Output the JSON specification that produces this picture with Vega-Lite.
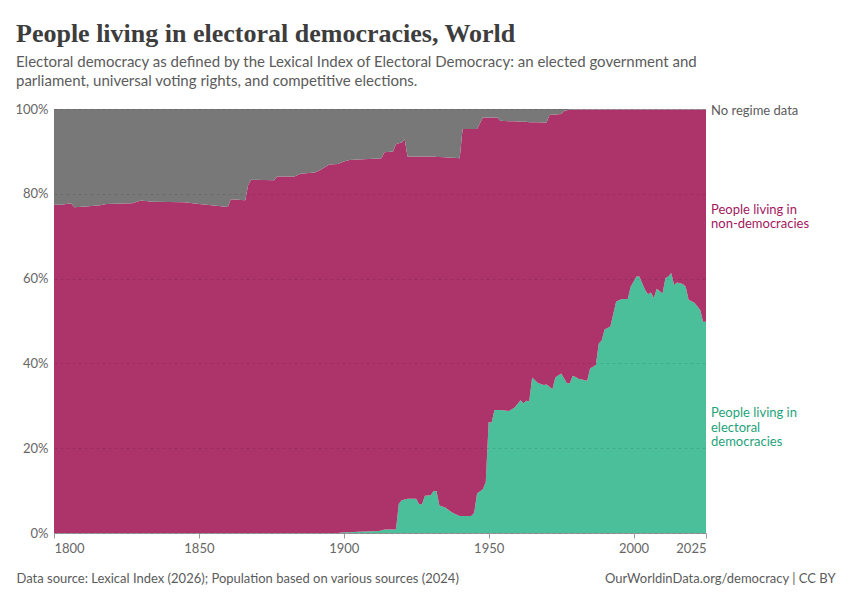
{
  "$schema": "https://vega.github.io/schema/vega-lite/v6.json",
  "autosize": {"type": "none"},
  "width": 652,
  "height": 424,
  "padding": {"left": 54, "top": 109, "right": 144, "bottom": 67},
  "background": "white",
  "title": {
    "text": "People living in electoral democracies, World",
    "subtitle": [
      "Electoral democracy as defined by the Lexical Index of Electoral Democracy: an elected government and",
      "parliament, universal voting rights, and competitive elections."
    ],
    "anchor": "start",
    "frame": "group",
    "dx": -38,
    "offset": 14,
    "font": "Liberation Serif",
    "fontSize": 26,
    "fontWeight": "bold",
    "color": "#3d3d3d",
    "subtitleFont": "Lato",
    "subtitleFontSize": 15,
    "subtitleColor": "#5b5b5b",
    "subtitlePadding": 8,
    "subtitleLineHeight": 19
  },
  "data": {
    "values": [
      {"year": 1800, "dem": 0, "non": 77.4, "none": 22.6},
      {"year": 1803, "dem": 0, "non": 77.4, "none": 22.6},
      {"year": 1804, "dem": 0, "non": 77.6, "none": 22.4},
      {"year": 1806, "dem": 0, "non": 77.7, "none": 22.3},
      {"year": 1807, "dem": 0, "non": 76.8, "none": 23.2},
      {"year": 1811, "dem": 0, "non": 77.0, "none": 23.0},
      {"year": 1816, "dem": 0, "non": 77.3, "none": 22.7},
      {"year": 1818, "dem": 0, "non": 77.6, "none": 22.4},
      {"year": 1827, "dem": 0, "non": 77.8, "none": 22.2},
      {"year": 1830, "dem": 0, "non": 78.4, "none": 21.6},
      {"year": 1834, "dem": 0, "non": 78.1, "none": 21.9},
      {"year": 1845, "dem": 0, "non": 78.0, "none": 22.0},
      {"year": 1850, "dem": 0, "non": 77.6, "none": 22.4},
      {"year": 1856, "dem": 0, "non": 77.2, "none": 22.8},
      {"year": 1860, "dem": 0, "non": 76.9, "none": 23.1},
      {"year": 1861, "dem": 0, "non": 78.7, "none": 21.3},
      {"year": 1866, "dem": 0, "non": 78.5, "none": 21.5},
      {"year": 1867, "dem": 0, "non": 82.1, "none": 17.9},
      {"year": 1868, "dem": 0, "non": 83.3, "none": 16.7},
      {"year": 1876, "dem": 0, "non": 83.2, "none": 16.8},
      {"year": 1877, "dem": 0, "non": 84.1, "none": 15.9},
      {"year": 1883, "dem": 0, "non": 84.1, "none": 15.9},
      {"year": 1885, "dem": 0, "non": 84.7, "none": 15.3},
      {"year": 1890, "dem": 0, "non": 85.0, "none": 15.0},
      {"year": 1892, "dem": 0, "non": 85.7, "none": 14.3},
      {"year": 1895, "dem": 0, "non": 86.9, "none": 13.1},
      {"year": 1898, "dem": 0, "non": 87.0, "none": 13.0},
      {"year": 1900, "dem": 0.2, "non": 87.4, "none": 12.4},
      {"year": 1902, "dem": 0.2, "non": 87.8, "none": 12.0},
      {"year": 1905, "dem": 0.3, "non": 87.8, "none": 11.9},
      {"year": 1912, "dem": 0.5, "non": 87.8, "none": 11.7},
      {"year": 1913, "dem": 0.6, "non": 87.8, "none": 11.6},
      {"year": 1914, "dem": 0.8, "non": 89.0, "none": 10.2},
      {"year": 1917, "dem": 0.8, "non": 89.2, "none": 10.0},
      {"year": 1918, "dem": 0.8, "non": 90.9, "none": 8.3},
      {"year": 1919, "dem": 6.9, "non": 85.0, "none": 8.1},
      {"year": 1920, "dem": 7.7, "non": 84.4, "none": 7.9},
      {"year": 1921, "dem": 7.9, "non": 85.0, "none": 7.1},
      {"year": 1922, "dem": 8.1, "non": 80.7, "none": 11.2},
      {"year": 1925, "dem": 8.1, "non": 80.7, "none": 11.2},
      {"year": 1926, "dem": 6.8, "non": 82.0, "none": 11.2},
      {"year": 1927, "dem": 6.8, "non": 82.0, "none": 11.2},
      {"year": 1928, "dem": 8.8, "non": 80.0, "none": 11.2},
      {"year": 1930, "dem": 8.9, "non": 79.9, "none": 11.2},
      {"year": 1931, "dem": 9.9, "non": 78.9, "none": 11.2},
      {"year": 1932, "dem": 9.9, "non": 78.8, "none": 11.3},
      {"year": 1933, "dem": 6.5, "non": 82.2, "none": 11.3},
      {"year": 1935, "dem": 6.0, "non": 82.6, "none": 11.4},
      {"year": 1937, "dem": 5.0, "non": 83.5, "none": 11.5},
      {"year": 1938, "dem": 4.6, "non": 83.9, "none": 11.5},
      {"year": 1940, "dem": 4.0, "non": 84.4, "none": 11.6},
      {"year": 1941, "dem": 4.0, "non": 91.3, "none": 4.7},
      {"year": 1944, "dem": 4.0, "non": 91.3, "none": 4.7},
      {"year": 1945, "dem": 4.8, "non": 90.5, "none": 4.7},
      {"year": 1946, "dem": 9.3, "non": 86.0, "none": 4.7},
      {"year": 1948, "dem": 10.3, "non": 87.7, "none": 2.0},
      {"year": 1949, "dem": 12.0, "non": 86.0, "none": 2.0},
      {"year": 1950, "dem": 26.2, "non": 71.8, "none": 2.0},
      {"year": 1951, "dem": 26.0, "non": 72.0, "none": 2.0},
      {"year": 1952, "dem": 29.0, "non": 69.0, "none": 2.0},
      {"year": 1953, "dem": 29.0, "non": 69.0, "none": 2.0},
      {"year": 1954, "dem": 29.0, "non": 68.2, "none": 2.8},
      {"year": 1957, "dem": 28.8, "non": 68.3, "none": 2.9},
      {"year": 1959, "dem": 29.6, "non": 67.5, "none": 2.9},
      {"year": 1961, "dem": 31.3, "non": 65.7, "none": 3.0},
      {"year": 1962, "dem": 30.6, "non": 66.4, "none": 3.0},
      {"year": 1963, "dem": 31.2, "non": 65.8, "none": 3.0},
      {"year": 1964, "dem": 31.1, "non": 65.8, "none": 3.1},
      {"year": 1965, "dem": 36.7, "non": 60.2, "none": 3.1},
      {"year": 1967, "dem": 35.4, "non": 61.5, "none": 3.1},
      {"year": 1969, "dem": 34.9, "non": 61.9, "none": 3.2},
      {"year": 1970, "dem": 35.0, "non": 61.8, "none": 3.2},
      {"year": 1971, "dem": 34.5, "non": 64.1, "none": 1.4},
      {"year": 1972, "dem": 33.9, "non": 64.8, "none": 1.3},
      {"year": 1973, "dem": 36.7, "non": 62.0, "none": 1.3},
      {"year": 1975, "dem": 37.6, "non": 61.2, "none": 1.2},
      {"year": 1976, "dem": 36.5, "non": 63.1, "none": 0.4},
      {"year": 1977, "dem": 35.3, "non": 64.4, "none": 0.3},
      {"year": 1978, "dem": 35.3, "non": 64.5, "none": 0.2},
      {"year": 1979, "dem": 37.1, "non": 62.7, "none": 0.2},
      {"year": 1980, "dem": 36.8, "non": 63.1, "none": 0.1},
      {"year": 1981, "dem": 36.4, "non": 63.5, "none": 0.1},
      {"year": 1984, "dem": 35.9, "non": 64.0, "none": 0.1},
      {"year": 1985, "dem": 38.8, "non": 61.1, "none": 0.1},
      {"year": 1987, "dem": 39.6, "non": 60.3, "none": 0.1},
      {"year": 1988, "dem": 44.7, "non": 55.2, "none": 0.1},
      {"year": 1989, "dem": 45.4, "non": 54.5, "none": 0.1},
      {"year": 1990, "dem": 48.0, "non": 51.9, "none": 0.1},
      {"year": 1992, "dem": 48.7, "non": 51.2, "none": 0.1},
      {"year": 1994, "dem": 54.6, "non": 45.3, "none": 0.1},
      {"year": 1996, "dem": 55.2, "non": 44.7, "none": 0.1},
      {"year": 1998, "dem": 55.2, "non": 44.7, "none": 0.1},
      {"year": 1999, "dem": 58.1, "non": 41.8, "none": 0.1},
      {"year": 2001, "dem": 60.5, "non": 39.4, "none": 0.1},
      {"year": 2002, "dem": 60.5, "non": 39.4, "none": 0.1},
      {"year": 2004, "dem": 57.3, "non": 42.6, "none": 0.1},
      {"year": 2005, "dem": 56.3, "non": 43.6, "none": 0.1},
      {"year": 2006, "dem": 56.7, "non": 43.2, "none": 0.1},
      {"year": 2007, "dem": 55.4, "non": 44.5, "none": 0.1},
      {"year": 2008, "dem": 57.6, "non": 42.3, "none": 0.1},
      {"year": 2010, "dem": 56.5, "non": 43.4, "none": 0.1},
      {"year": 2011, "dem": 60.1, "non": 39.8, "none": 0.1},
      {"year": 2012, "dem": 60.5, "non": 39.4, "none": 0.1},
      {"year": 2013, "dem": 61.3, "non": 38.6, "none": 0.1},
      {"year": 2014, "dem": 58.5, "non": 41.4, "none": 0.1},
      {"year": 2015, "dem": 59.1, "non": 40.8, "none": 0.1},
      {"year": 2017, "dem": 58.7, "non": 41.2, "none": 0.1},
      {"year": 2018, "dem": 58.1, "non": 41.8, "none": 0.1},
      {"year": 2019, "dem": 55.0, "non": 44.9, "none": 0.1},
      {"year": 2021, "dem": 54.3, "non": 45.6, "none": 0.1},
      {"year": 2022, "dem": 53.5, "non": 46.4, "none": 0.1},
      {"year": 2023, "dem": 52.6, "non": 47.3, "none": 0.1},
      {"year": 2024, "dem": 49.8, "non": 50.1, "none": 0.1},
      {"year": 2025, "dem": 49.8, "non": 50.1, "none": 0.1}
    ]
  },
  "layer": [
    {
      "transform": [{"fold": ["dem", "non", "none"], "as": ["series", "share"]}],
      "mark": {"type": "area", "interpolate": "linear"},
      "encoding": {
        "x": {
          "field": "year",
          "type": "quantitative",
          "scale": {"domain": [1800, 2025], "nice": false, "zero": false},
          "axis": {
            "values": [1800, 1850, 1900, 1950, 2000, 2025],
            "format": "d",
            "grid": false,
            "labelFont": "Lato",
            "labelFontSize": 13,
            "labelColor": "#666666",
            "labelPadding": 4,
            "tickColor": "#999999",
            "tickSize": 5,
            "domainColor": "#999999",
            "title": "Data source: Lexical Index (2026); Population based on various sources (2024)",
            "titleFont": "Lato",
            "titleFontSize": 13,
            "titleFontWeight": "normal",
            "titleColor": "#5b5b5b",
            "titleAlign": "left",
            "titleAnchor": "start",
            "titleBaseline": "alphabetic",
            "titleX": -38,
            "titleY": 49
          }
        },
        "y": {
          "field": "share",
          "type": "quantitative",
          "stack": "zero",
          "scale": {"domain": [0, 100], "nice": false},
          "axis": {
            "values": [0, 20, 40, 60, 80, 100],
            "labelExpr": "datum.value + '%'",
            "labelFont": "Lato",
            "labelFontSize": 13,
            "labelColor": "#666666",
            "labelPadding": 6,
            "ticks": false,
            "domain": false,
            "grid": true,
            "gridColor": "#000000",
            "gridOpacity": 0.1,
            "gridDash": [3, 3],
            "zindex": 1,
            "title": "OurWorldinData.org/democracy | CC BY",
            "titleFont": "Lato",
            "titleFontSize": 13,
            "titleFontWeight": "normal",
            "titleColor": "#5b5b5b",
            "titleAngle": 0,
            "titleAlign": "right",
            "titleBaseline": "alphabetic",
            "titleX": 781,
            "titleY": 473
          }
        },
        "color": {
          "field": "series",
          "type": "nominal",
          "scale": {"domain": ["dem", "non", "none"], "range": ["#4abf9a", "#ad336b", "#787878"]},
          "legend": null
        },
        "order": {"field": "series", "sort": "ascending"}
      }
    },
    {
      "data": {
        "values": [
          {"year": 2025, "pos": 99.6, "series": "none", "label": "No regime data"},
          {"year": 2025, "pos": 76.2, "series": "non", "label": "People living in\nnon-democracies"},
          {"year": 2025, "pos": 28.2, "series": "dem", "label": "People living in\nelectoral\ndemocracies"}
        ]
      },
      "mark": {"type": "text", "align": "left", "baseline": "middle", "dx": 5, "font": "Lato", "fontSize": 13, "lineBreak": "\n", "lineHeight": 14.5},
      "encoding": {
        "x": {"field": "year", "type": "quantitative"},
        "y": {"field": "pos", "type": "quantitative"},
        "text": {"field": "label"},
        "color": {
          "field": "series",
          "type": "nominal",
          "scale": {"domain": ["dem", "non", "none"], "range": ["#1fa37a", "#a2185e", "#5b5b5b"]},
          "legend": null
        }
      }
    }
  ],
  "resolve": {"scale": {"color": "independent"}},
  "config": {"view": {"stroke": null}}
}
